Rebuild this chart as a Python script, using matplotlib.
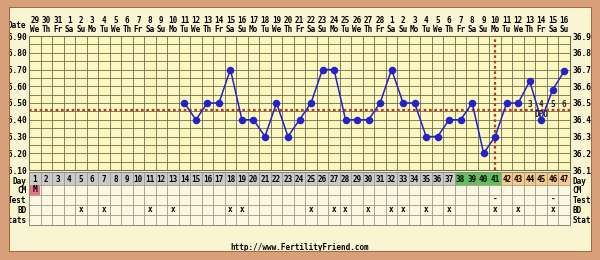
import numpy as np
import matplotlib.pyplot as plt
from matplotlib.patches import Rectangle

# cycle data
days = list(range(1, 48))
dates = [29, 30, 31, 1, 2, 3, 4, 5, 6, 7, 8, 9, 10, 11, 12, 13, 14, 15, 16, 17,
         18, 19, 20, 21, 22, 23, 24, 25, 26, 27, 28, 1, 2, 3, 4, 5, 6, 7, 8, 9,
         10, 11, 12, 13, 14, 15, 16]
weekdays = ['We', 'Th', 'Fr', 'Sa', 'Su', 'Mo', 'Tu'] * 6 + ['We', 'Th', 'Fr', 'Sa', 'Su']

temp_days = list(range(14, 48))
temps = [36.50, 36.40, 36.50, 36.50, 36.70, 36.40, 36.40, 36.30, 36.50, 36.30,
         36.40, 36.50, 36.70, 36.70, 36.40, 36.40, 36.40, 36.50, 36.70, 36.50,
         36.50, 36.30, 36.30, 36.40, 36.40, 36.50, 36.20, 36.30, 36.50, 36.50,
         36.63, 36.40, 36.58, 36.69]

coverline = 36.46
ovulation_day = 41
fertile_days = [38, 39, 40, 41]
luteal_days = [42, 43, 44, 45, 46, 47]
dpo_labels = ['1', '2', '3', '4', '5', '6']
bd_days = [5, 7, 11, 13, 18, 19, 25, 27, 28, 30, 32, 33, 35, 37, 41, 43, 46]
test_days = [41, 46]
cm_days = [1]
cm_values = ['M']
row_names = ['Day', 'CM', 'Test', 'BD', 'Stats']

W, H = 600, 260
def fr(x0, y0, x1, y1):
    return [x0 / W, 1 - y1 / H, (x1 - x0) / W, (y1 - y0) / H]

wood = '#D89F7B'
wood_dark = '#A8683E'
panel = '#F9F5D3'
plotbg = '#FCF8C0'
gridc = '#6E6C50'
font = dict(family='DejaVu Sans Mono', weight='bold', size=5.5)

fig = plt.figure(figsize=(6, 2.6), dpi=100)
fig.patch.set_facecolor(panel)

# ---- temperature plot
ax = fig.add_axes(fr(29, 36, 570, 170))
ax.set_facecolor(plotbg)
ax.set_xlim(0.5, 47.5)
ax.set_ylim(36.1, 36.9)
ax.vlines(np.arange(1.5, 47.5, 1), 36.1, 36.9, color=gridc, lw=0.6, zorder=1)
ax.hlines(np.arange(36.15, 36.9, 0.05), 0.5, 47.5, color=gridc, lw=0.6, zorder=1)
for s in ax.spines.values():
    s.set_color(gridc)
    s.set_linewidth(0.8)

ax.axhline(coverline, color='#C0391B', lw=1.6, ls=(0, (1.2, 1.2)), zorder=2)
ax.axvline(ovulation_day, color='#C0391B', lw=1.6, ls=(0, (1.2, 1.2)), zorder=2)

for d, lab in zip(luteal_days, dpo_labels):
    ax.text(d, 36.49, lab, ha='center', va='center', color='#202020', zorder=2, **font)
ax.text(45, 36.43, 'DPO', ha='center', va='center', color='#202020', zorder=2, **font)

ax.plot(temp_days, temps, color='#2323C8', lw=1.1, marker='o', ms=4.4, zorder=4)

yt = np.round(np.arange(36.1, 36.91, 0.1), 2)
ax.set_yticks(yt)
ax.set_yticklabels(['%.2f' % v for v in yt])
ax.set_xticks([])
ax.tick_params(axis='y', length=0, pad=1.5, left=True, right=True,
               labelleft=True, labelright=True)
for t in ax.yaxis.get_major_ticks():
    for lab in (t.label1, t.label2):
        lab.set_fontfamily('DejaVu Sans Mono')
        lab.set_fontweight('bold')
        lab.set_fontsize(5.7)

tr = ax.get_xaxis_transform()
for d, dt, wd in zip(days, dates, weekdays):
    ax.text(d, 1.112, str(dt), transform=tr, ha='center', va='center', **font)
    ax.text(d, 1.052, wd, transform=tr, ha='center', va='center', **font)
ax.text(-0.005, 1.082, 'Date', transform=ax.transAxes, ha='right', va='center', **font)

# ---- bottom table (Day row a bit taller)
tb = fig.add_axes(fr(29, 172, 570, 225))
tb.set_facecolor('#FBF8E2')
tb.set_xlim(0.5, 47.5)
tb.set_ylim(5.25, 0)
row_top = [0, 1.25, 2.25, 3.25, 4.25]
row_h = [1.25, 1, 1, 1, 1]
day_colors = ['#5CC35A' if d in fertile_days else '#F9C98A' if d in luteal_days
              else '#CACACA' for d in days]
tb.bar(days, row_h[0], bottom=row_top[0], width=1, color=day_colors, zorder=1)
tb.bar(cm_days, row_h[1], bottom=row_top[1], width=0.9, color='#E8708C', zorder=1)
for d, v in zip(cm_days, cm_values):
    tb.text(d, row_top[1] + 0.5, v, ha='center', va='center', **font)
tb.vlines(np.arange(1.5, 47.5, 1), 0, 5.25, color='#9C9A88', lw=0.6, zorder=2)
tb.hlines(row_top[1:], 0.5, 47.5, color='#9C9A88', lw=0.6, zorder=2)
for s in tb.spines.values():
    s.set_color('#8A8878')
    s.set_linewidth(0.7)
tb.set_xticks([])
tb.set_yticks([])
for d in days:
    tb.text(d, 0.75, str(d), ha='center', va='center', zorder=3, **font)
for d in bd_days:
    tb.text(d, row_top[3] + 0.5, 'x', ha='center', va='center', zorder=3, **font)
for d in test_days:
    tb.text(d, row_top[2] + 0.5, '-', ha='center', va='center', zorder=3, **font)
ytr = tb.get_yaxis_transform()
for i, name in enumerate(row_names):
    yy = row_top[i] + (0.9 if i == 0 else 0.55)
    tb.text(-0.005, yy, name, transform=ytr, ha='right', va='center', **font)
    tb.text(1.005, yy, name, transform=ytr, ha='left', va='center', **font)

fig.text(0.5, 1 - 247 / H, 'http://www.FertilityFriend.com', ha='center',
         va='center', **font)

# ---- wooden frame on top
for box in [(0, 0, 10, 260), (591, 0, 600, 260), (0, 0, 600, 8), (0, 251, 600, 260)]:
    b = fr(*box)
    fig.add_artist(Rectangle(b[:2], b[2], b[3], transform=fig.transFigure,
                             facecolor=wood, edgecolor='none', zorder=20))
for box in [(9, 7, 10, 252), (591, 7, 592, 252), (9, 7, 592, 8), (9, 251, 592, 252)]:
    b = fr(*box)
    fig.add_artist(Rectangle(b[:2], b[2], b[3], transform=fig.transFigure,
                             facecolor=wood_dark, edgecolor='none', zorder=21))

fig.savefig('out.png', dpi=100, facecolor=fig.get_facecolor())
